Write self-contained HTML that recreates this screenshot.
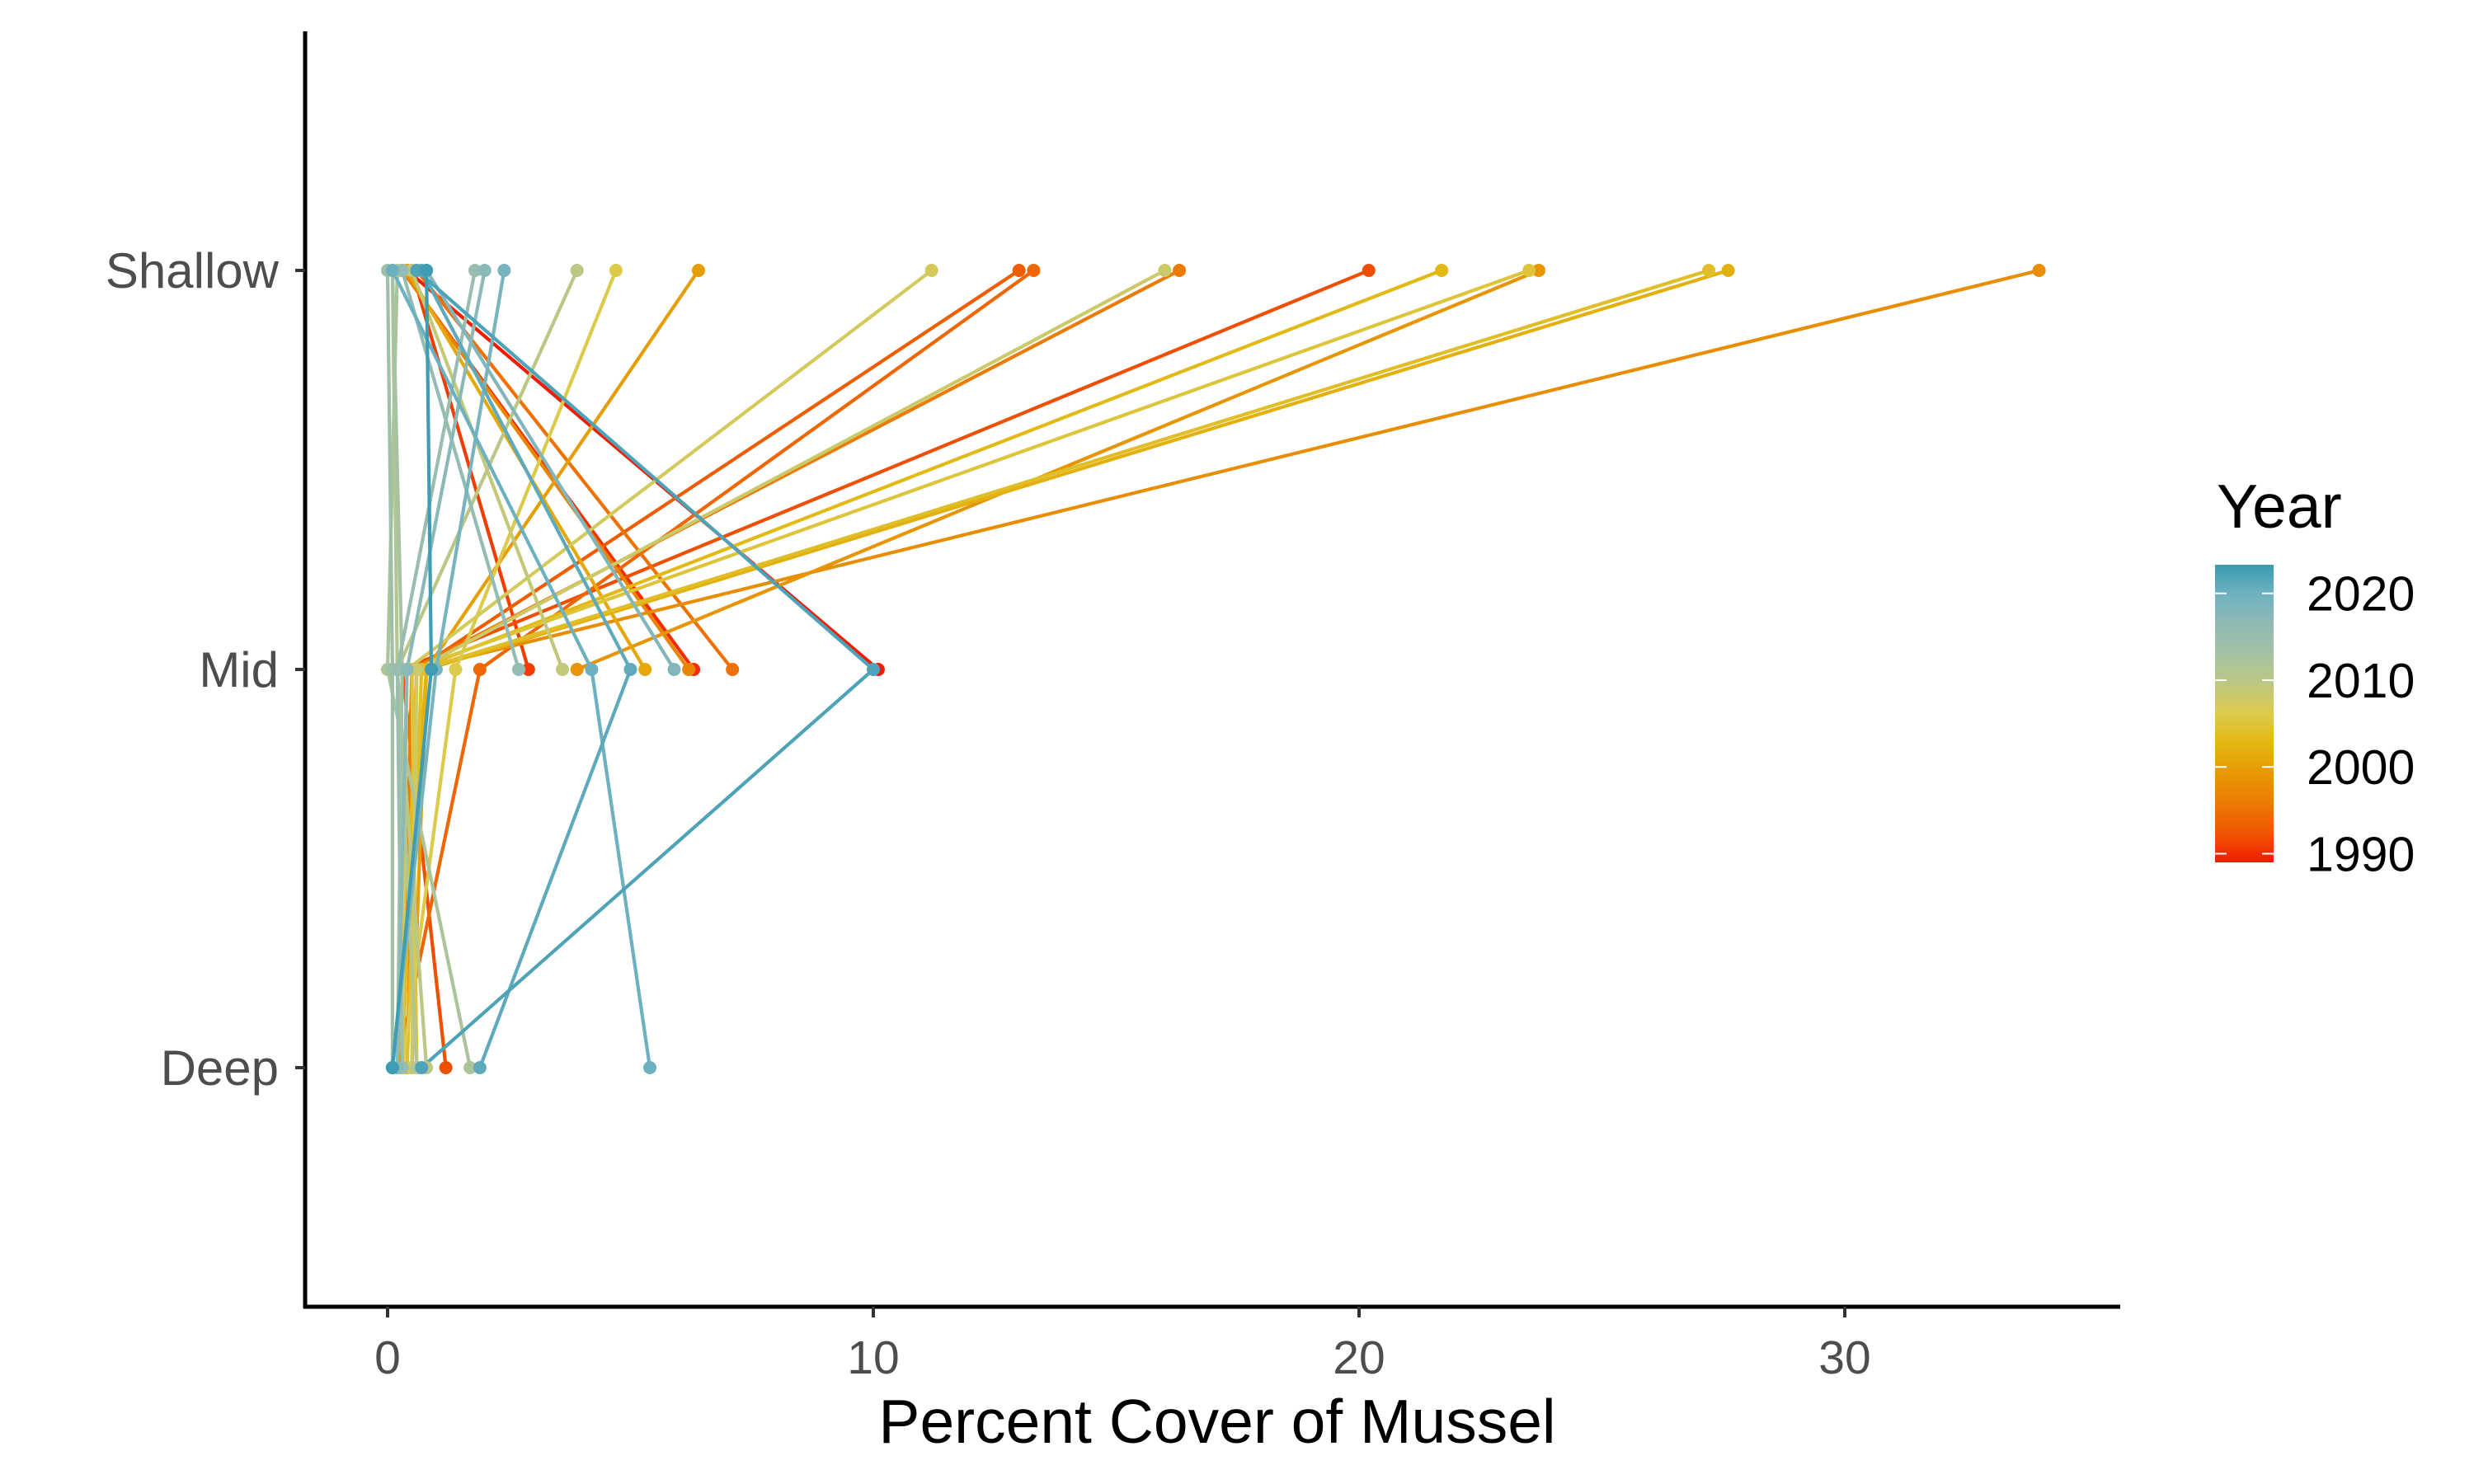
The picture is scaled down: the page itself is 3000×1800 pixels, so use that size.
<!DOCTYPE html>
<html><head><meta charset="utf-8"><style>
html,body{margin:0;padding:0;background:#fff;}
svg{display:block;font-family:"Liberation Sans",Arial,sans-serif;}
</style></head><body>
<svg id="chart" width="3000" height="1800" viewBox="0 0 3000 1800" xmlns="http://www.w3.org/2000/svg">
<defs><linearGradient id="yearGrad" x1="0" y1="1" x2="0" y2="0">
<stop offset="0" stop-color="#F11B00"/><stop offset="0.1" stop-color="#EF5703"/><stop offset="0.2" stop-color="#EC7A05"/><stop offset="0.3" stop-color="#E79805"/><stop offset="0.4" stop-color="#E3B710"/><stop offset="0.5" stop-color="#DCCB4E"/><stop offset="0.6" stop-color="#BDC881"/><stop offset="0.7" stop-color="#A5C2A3"/><stop offset="0.8" stop-color="#91BAB6"/><stop offset="0.9" stop-color="#6FB2C1"/><stop offset="1" stop-color="#3A9AB2"/>
</linearGradient></defs>
<g id="lines"></g>
<g id="points"></g>
<line x1="370" y1="38" x2="370" y2="1587" stroke="#000" stroke-width="5"/>
<line x1="368" y1="1585" x2="2571" y2="1585" stroke="#000" stroke-width="5"/>
<g id="yticks"></g>
<g id="xticks"></g>
<text x="1476" y="1750" font-size="75" text-anchor="middle" fill="#000">Percent Cover of Mussel</text>
<g>
<text x="2688" y="640" font-size="75" fill="#000">Year</text>
<rect x="2686" y="685" width="71" height="361" fill="url(#yearGrad)"/>
<g id="legticks"></g>
</g>
</svg>
<script>
const years=[1989,1990,1991,1992,1993,1994,1995,1996,1997,1998,1999,2000,2001,2002,2003,2004,2005,2006,2007,2008,2009,2010,2011,2012,2013,2014,2015,2016,2017,2018,2019,2020,2021,2022,2023];
const shallow=[0.4,0.3,0.5,20.2,13.0,13.3,0.6,16.3,0.3,34.0,23.7,6.4,0.4,27.6,21.7,27.2,23.5,4.7,11.2,16.0,0.5,3.9,0.1,0.2,0.1,0.0,1.8,0.3,2.0,0.8,2.4,0.1,0.7,0.6,0.8];
const mid=[10.1,6.3,2.9,0.3,0.6,1.9,7.1,0.5,6.2,0.6,3.9,0.8,5.3,0.8,0.6,0.7,0.5,1.4,0.4,0.6,3.6,0.2,0.2,0.0,0.3,0.1,0.2,2.7,0.4,5.9,1.0,4.2,5.0,10.0,0.9];
const deep=[null,null,null,1.2,0.3,0.2,null,0.3,null,0.4,null,0.5,null,0.2,0.3,0.4,0.6,0.3,0.3,0.5,null,0.8,0.6,1.7,0.2,0.1,0.3,null,0.2,null,0.1,5.4,1.9,0.7,0.1];
const depthLabels=["Shallow","Mid","Deep"];
const xTicks=[0,10,20,30];
const legendTicks=[1990,2000,2010,2020];

const NS="http://www.w3.org/2000/svg";
const xS=v=>470+v*58.9;
const yPos={Shallow:328,Mid:812,Deep:1295};
const yearY=y=>1046-(y-1989.0)*(361/34.3);
const pal=["#F11B00","#EF5703","#EC7A05","#E79805","#E3B710","#DCCB4E","#BDC881","#A5C2A3","#91BAB6","#6FB2C1","#3A9AB2"];
function hex(h){return [1,3,5].map(i=>parseInt(h.substr(i,2),16));}
function col(y){let t=(y-1989.0)/34.3;t=Math.max(0,Math.min(1,t))*10;const i=Math.min(9,Math.floor(t)),f=t-i;const a=hex(pal[i]),b=hex(pal[i+1]);return "rgb("+a.map((v,k)=>Math.round(v+(b[k]-v)*f)).join(",")+")";}
function mk(tag,attrs,parent){const e=document.createElementNS(NS,tag);for(const k in attrs)e.setAttribute(k,attrs[k]);parent.appendChild(e);return e;}

const gl=document.getElementById("lines"),gp=document.getElementById("points");
years.forEach((yr,i)=>{
  const c=col(yr);
  const pts=[[xS(shallow[i]),yPos.Shallow],[xS(mid[i]),yPos.Mid]];
  if(deep[i]!==null)pts.push([xS(deep[i]),yPos.Deep]);
  const pl=mk("polyline",{points:pts.map(p=>p.join(",")).join(" "),fill:"none",stroke:c,"stroke-width":4.2},gl);
  
  
});
years.forEach((yr,i)=>{
  const c=col(yr);
  [[shallow[i],"Shallow"],[mid[i],"Mid"],[deep[i],"Deep"]].forEach(([v,d])=>{
    if(v===null)return;
    const p=mk("circle",{cx:xS(v),cy:yPos[d],r:8,fill:c},gp);
    
    
  });
});
const gy=document.getElementById("yticks");
depthLabels.forEach(d=>{
  const l=mk("line",{x1:358,x2:370,y1:yPos[d],y2:yPos[d],stroke:"#333","stroke-width":4},gy);
  
  
  const t=mk("text",{x:338,y:yPos[d]+21,"font-size":60,"text-anchor":"end",fill:"#4d4d4d"},gy);
  t.textContent=d;
  
  
});
const gx=document.getElementById("xticks");
xTicks.forEach(v=>{
  const l=mk("line",{x1:xS(v),x2:xS(v),y1:1585,y2:1598,stroke:"#333","stroke-width":4},gx);
  
  
  const t=mk("text",{x:xS(v),y:1666,"font-size":57,"text-anchor":"middle",fill:"#4d4d4d"},gx);
  t.textContent=v;
  
  
});
const lg=document.getElementById("legticks");
legendTicks.forEach(y=>{
  const yy=yearY(y);
  mk("line",{x1:2686,x2:2700,y1:yy,y2:yy,stroke:"#fff","stroke-width":2},lg);
  mk("line",{x1:2743,x2:2757,y1:yy,y2:yy,stroke:"#fff","stroke-width":2},lg);
  const t=mk("text",{x:2797,y:yy+21,"font-size":59,fill:"#000"},lg);
  t.textContent=y;
  
  
});
</script>
</body></html>
